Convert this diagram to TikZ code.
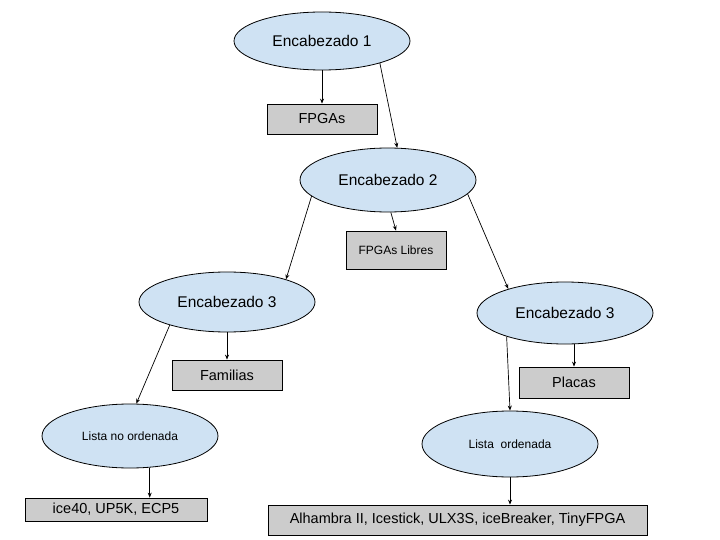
\documentclass[tikz,border=0pt]{standalone}
\usepackage{fontspec}
\setmainfont{Liberation Sans}
\usetikzlibrary{shapes.geometric,arrows.meta}
\definecolor{ellfill}{HTML}{CFE2F3}
\definecolor{boxfill}{HTML}{CCCCCC}
\begin{document}
\begin{tikzpicture}[x=1pt,y=-1pt,
  ell/.style={ellipse,draw=black,line width=0.8pt,fill=ellfill,inner sep=0pt,minimum width=176pt},
  bx/.style={rectangle,draw=black,line width=0.8pt,fill=boxfill,inner sep=0pt},
  arr/.style={-{Stealth[length=5pt,width=4pt]},line width=0.7pt},
  big/.style={font=\fontsize{15.5}{18}\selectfont},
  mid/.style={font=\fontsize{14.5}{17}\selectfont},
  sml/.style={font=\fontsize{12}{14}\selectfont}]
\useasboundingbox[fill=white] (0,0) rectangle (720,540);
% ellipses
\node[ell,big,minimum height=58pt] (e1) at (322,41) {Encabezado 1};
\node[ell,big,minimum height=64pt] (e2) at (388,180) {Encabezado 2};
\node[ell,big,minimum height=60pt] (e3l) at (227,302) {Encabezado 3};
\node[ell,big,minimum height=62pt] (e3r) at (565,313) {Encabezado 3};
\node[ell,sml,minimum height=64pt] (lno) at (130,436) {Lista no ordenada};
\node[ell,sml,minimum height=66pt] (lo) at (510,444) {Lista\ \ ordenada};
% boxes
\node[bx,mid,minimum width=110pt,minimum height=30pt] (fpgas) at (322,119) {FPGAs};
\node[bx,sml,minimum width=100pt,minimum height=38pt] (libres) at (396,250) {FPGAs Libres};
\node[bx,mid,minimum width=110pt,minimum height=30pt] (fam) at (227,375) {Familias};
\node[bx,mid,minimum width=110pt,minimum height=31pt] (placas) at (574,382.5) {Placas};
\node[bx,mid,minimum width=182pt,minimum height=23pt] (ice) at (116,509.5) {ice40, UP5K, ECP5};
\node[bx,mid,minimum width=379pt,minimum height=30pt] (alh) at (457.5,520) {Alhambra II, Icestick, ULX3S, iceBreaker, TinyFPGA};
% connectors
\draw[arr] (e1.south) -- (fpgas.north);
\draw[arr] (e1.-21) -- (e2.74);
\draw[arr] (e2.-168) -- (e3l.21);
\draw[arr] (e2.-85) -- (libres.north);
\draw[arr] (e2.-10.5) -- (e3r.157.6);
\draw[arr] (e3l.south) -- (fam.north);
\draw[arr] (e3l.-158) -- (lno.79);
\draw[arr] (lno.-58) -- (lno.-58 |- ice.north);
\draw[arr] (e3r.south -| placas.north) -- (placas.north);
\draw[arr] (e3r.-158.5) -- (lo.north);
\draw[arr] (lo.south) -- (lo.south |- alh.north);
\end{tikzpicture}
\end{document}
